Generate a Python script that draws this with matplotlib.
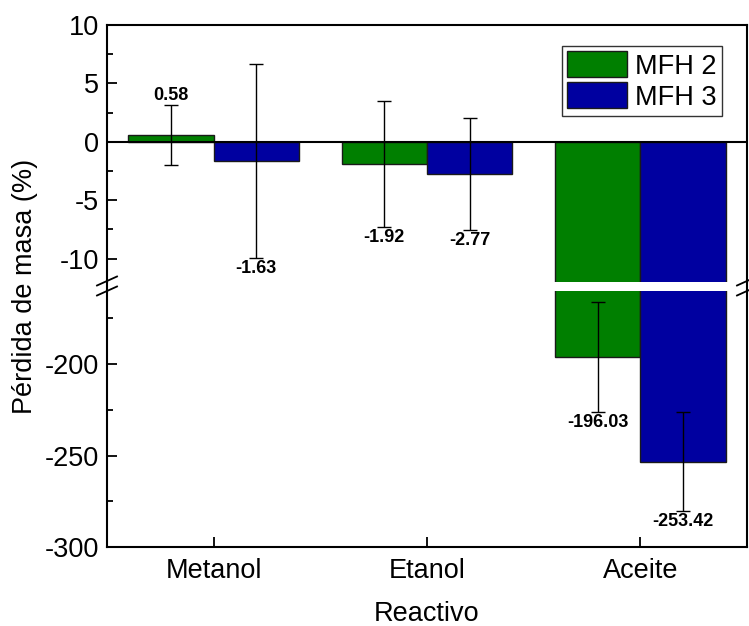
import numpy as np
import matplotlib
matplotlib.use("Agg")
import matplotlib.pyplot as plt
from matplotlib.lines import Line2D

plt.rcParams['font.family'] = ['Liberation Sans', 'DejaVu Sans']
plt.rcParams['axes.unicode_minus'] = False

# data
categories = ["Metanol", "Etanol", "Aceite"]
series_names = ["MFH 2", "MFH 3"]
mfh2 = [0.58, -1.92, -196.03]
mfh3 = [-1.63, -2.77, -253.42]
mfh2_err = [2.55, 5.4, 30.0]
mfh3_err = [8.3, 4.8, 27.0]

colors = ["#007f00", "#0000a0"]
fs = 19.5

W, H = 749, 626
fig = plt.figure(figsize=(W / 100, H / 100), dpi=100)

left, right = 107 / W, 747 / W
ax_top = fig.add_axes([left, 1 - 282 / H, right - left, (282 - 25) / H])
ax_bot = fig.add_axes([left, 1 - 547 / H, right - left, (547 - 291) / H])

x = np.arange(1, len(categories) + 1)
width = 0.4

for ax in (ax_top, ax_bot):
    for i, (vals, errs) in enumerate([(mfh2, mfh2_err), (mfh3, mfh3_err)]):
        pos = x - width / 2 + i * width
        ax.bar(pos, vals, width=width, color=colors[i], edgecolor="#1a1a1a",
               linewidth=1.0, label=series_names[i], zorder=2)
        ax.errorbar(pos, vals, yerr=errs, fmt="none", ecolor="black",
                    elinewidth=1.0, capsize=5, capthick=1.0, zorder=3)
        for p, v, e in zip(pos, vals, errs):
            if v >= 0:
                ax.annotate(f"{v:.2f}", xy=(p, v + e), xytext=(0, 7),
                            textcoords="offset points", ha="center", va="center",
                            fontsize=13, fontweight="bold")
            else:
                ax.annotate(f"{v:.2f}", xy=(p, v - e), xytext=(0, -7.5),
                            textcoords="offset points", ha="center", va="center",
                            fontsize=13, fontweight="bold")
    ax.set_xlim(0.5, 3.5)
    for s in ax.spines.values():
        s.set_linewidth(1.5)
    ax.tick_params(axis="y", which="both", direction="in", labelsize=fs, pad=6)
    ax.tick_params(axis="y", which="major", length=7, width=1.3)
    ax.tick_params(axis="y", which="minor", length=4, width=1.3)

ax_top.axhline(0, color="black", lw=1.5, zorder=4)
ax_top.set_ylim(-12, 10)
ax_top.set_yticks([10, 5, 0, -5, -10])
ax_top.set_yticks([7.5, 2.5, -2.5, -7.5], minor=True)
ax_top.set_xticks([])
ax_top.spines["bottom"].set_visible(False)

ax_bot.set_ylim(-300, -160)
ax_bot.set_yticks([-200, -250, -300])
ax_bot.set_yticks([-175, -225, -275], minor=True)
ax_bot.spines["top"].set_visible(False)
ax_bot.set_xticks(x)
ax_bot.set_xticklabels(categories)
ax_bot.tick_params(axis="x", direction="in", length=7, width=1.3, labelsize=fs, pad=8)
ax_bot.set_xlabel("Reactivo", fontsize=fs, labelpad=12)

fig.text(25 / W, 1 - 286 / H, "Pérdida de masa (%)", rotation=90,
         ha="center", va="center", fontsize=fs)

# continuous spines through the gap + break marks
for xs in (left, right):
    fig.add_artist(Line2D([xs, xs], [1 - 282 / H, 1 - 291 / H],
                          transform=fig.transFigure, color="black", lw=1.5))
    for yp in (281, 291):
        fig.add_artist(Line2D([xs - 10 / W, xs + 10 / W],
                              [1 - (yp + 4.5) / H, 1 - (yp - 4.5) / H],
                              transform=fig.transFigure, color="black", lw=1.3))

handles, labels = ax_top.get_legend_handles_labels()
leg = ax_top.legend(handles[:2], labels[:2], loc="upper right",
                    bbox_to_anchor=(722 / W, 1 - 46 / H), bbox_transform=fig.transFigure,
                    fontsize=fs, fancybox=False, framealpha=1, edgecolor="#333333",
                    handlelength=2.2, handleheight=1.1, handletextpad=0.3,
                    labelspacing=0.1, borderpad=0.2, borderaxespad=0)
leg.get_frame().set_linewidth(1.0)

fig.savefig("out.png", dpi=100)
